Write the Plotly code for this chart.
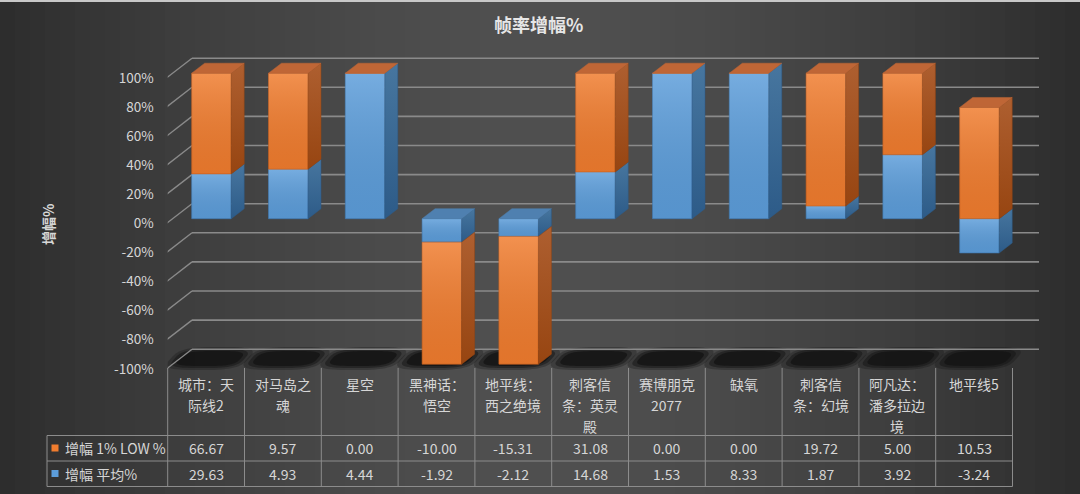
import plotly.graph_objects as go
import numpy as np

# ---------------- data ----------------
categories = ["城市：天际线2", "对马岛之魂", "星空", "黑神话：悟空", "地平线：西之绝境",
              "刺客信条：英灵殿", "赛博朋克2077", "缺氧", "刺客信条：幻境",
              "阿凡达：潘多拉边境", "地平线5"]
header_lines = [["城市：天", "际线2"], ["对马岛之", "魂"], ["星空"], ["黑神话：", "悟空"],
                ["地平线：", "西之绝境"], ["刺客信", "条：英灵", "殿"], ["赛博朋克", "2077"],
                ["缺氧"], ["刺客信", "条：幻境"], ["阿凡达：", "潘多拉边", "境"], ["地平线5"]]
low_1pct = [66.67, 9.57, 0.00, -10.00, -15.31, 31.08, 0.00, 0.00, 19.72, 5.00, 10.53]
avg_pct = [29.63, 4.93, 4.44, -1.92, -2.12, 14.68, 1.53, 8.33, 1.87, 3.92, -3.24]
series_low = "增幅 1% LOW %"
series_avg = "增幅 平均%"
y_ticks = [-100, -80, -60, -40, -20, 0, 20, 40, 60, 80, 100]
title_text = "帧率增幅%"
y_title = "增幅%"

# ---------------- geometry (pixels) ----------------
W, H = 1080, 494
X0, COL = 167.7, 76.8          # left edge of first category column, column width
Y0, PPU = 218.7, 1.455         # pixel of 0% on bar fronts, px per 1%
XR = X0 + 11.7 * COL
YT, YB = Y0 - 120 * PPU, Y0 + 110 * PPU


def px2x(p):
    return (p - X0) / COL - 0.5


def py2y(p):
    return (Y0 - p) / PPU


def fx(p):
    return p / W


def fy(p):
    return 1 - p / H


BAR_OFF = px2x(X0 + 24)
BAR_W = 39.5 / COL
DX = 13 / COL
DY = 10 / PPU

ORANGE = "#F07C2E"
BLUE = "#5C9DDA"
ORANGE_SIDE = ["#AE5F30", "#974511"]
BLUE_SIDE = ["#47769F", "#2D5B88"]
ORANGE_TOP = "#BF6636"
BLUE_TOP = "#4F80B0"
GRID = "#8a8a8a"
TXT = "#d6d6d6"
FONT = "Noto Sans CJK SC"

# 100% stacking
n = len(categories)
tot = [abs(a) + abs(b) for a, b in zip(low_1pct, avg_pct)]
avg_share = [a / t * 100 for a, t in zip(avg_pct, tot)]
low_share = [b / t * 100 for b, t in zip(low_1pct, tot)]

fig = go.Figure()

fig.add_trace(go.Bar(x=list(range(n)), y=avg_share, name=series_avg, width=BAR_W, offset=BAR_OFF,
                     marker=dict(color=BLUE, line=dict(color="#3F7CB8", width=0.6)),
                     customdata=avg_pct, hovertemplate="%{customdata}<extra></extra>"))
fig.add_trace(go.Bar(x=list(range(n)), y=low_share, name=series_low, width=BAR_W, offset=BAR_OFF,
                     marker=dict(color=ORANGE, line=dict(color="#C9601E", width=0.6)),
                     customdata=low_1pct, hovertemplate="%{customdata}<extra></extra>"))


def poly(xs, ys, grad, line_c, lw=0.5):
    fig.add_trace(go.Scatter(x=xs + [xs[0]], y=ys + [ys[0]], mode="lines", fill="toself",
                             fillgradient=dict(type="vertical",
                                               colorscale=[[0, grad[1]], [1, grad[0]]]),
                             line=dict(color=line_c, width=lw), hoverinfo="skip",
                             showlegend=False))


SHEEN = ["rgba(255,255,255,0.16)", "rgba(0,0,0,0.06)"]

for i in range(n):
    b = avg_share[i]
    o = low_share[i]
    segs = []
    # blue first (nearest zero), orange stacked after
    segs.append((min(0, b), max(0, b), "b"))
    if o >= 0:
        base = b if b > 0 else 0
        segs.append((base, base + o, "o"))
    else:
        base = b if b < 0 else 0
        segs.append((base + o, base, "o"))
    xl = i + BAR_OFF
    xr = xl + BAR_W
    for lo, hi, s in segs:
        if hi - lo < 1e-9:
            continue
        g = ORANGE_SIDE if s == "o" else BLUE_SIDE
        poly([xr, xr + DX, xr + DX, xr], [lo, lo + DY, hi + DY, hi], g, g[1])
        # soft vertical sheen on the front face
        poly([xl, xr, xr, xl], [lo, lo, hi, hi], SHEEN, "rgba(0,0,0,0)", 0)
    pos_top = max([hi for lo, hi, s in segs if lo >= 0] + [0])
    if pos_top > 0:
        yt = pos_top
        tc = ORANGE_TOP if o >= 0 else BLUE_TOP
    else:
        yt = 0
        tc = BLUE_TOP if b < 0 else ORANGE_TOP
    poly([xl, xr, xr + DX, xl + DX], [yt, yt, yt + DY, yt + DY], [tc, tc], tc)

shapes = []
# background gradient stripes
NS = 72
for k in range(NS):
    x0p = k * W / NS
    x1p = (k + 1) * W / NS
    t = ((x0p + x1p) / 2 - 540) / 540
    c = int(45 + 35 * (1 - abs(t) ** 1.6))
    shapes.append(dict(type="rect", xref="paper", yref="paper", x0=fx(x0p), x1=fx(x1p) + 0.001,
                       y0=0, y1=1, fillcolor=f"rgb({c},{c},{c})", line=dict(width=0), layer="below"))
shapes.append(dict(type="rect", xref="paper", yref="paper", x0=0, x1=1, y0=fy(2), y1=1,
                   fillcolor="#c8c8c8", line=dict(width=0), layer="below"))

# floor shadows
th = np.linspace(0, 2 * np.pi, 60)
for i in range(n):
    cxp = X0 + COL * i + 42
    cyp = 358.5
    for a, bb, op in [(39, 11.5, 0.3), (35, 9.5, 0.5), (31, 7.5, 0.8)]:
        ex = np.sign(np.cos(th)) * np.abs(np.cos(th)) ** 0.6 * a
        ey = np.sign(np.sin(th)) * np.abs(np.sin(th)) ** 0.6 * bb
        xs = cxp + ex - ey * 0.9
        ys = cyp + ey
        path = "M " + " L ".join(f"{px2x(x):.4f},{py2y(y):.3f}" for x, y in zip(xs, ys)) + " Z"
        shapes.append(dict(type="path", xref="x", yref="y", path=path,
                           fillcolor=f"rgba(20,20,20,{op})", line=dict(width=0), layer="between"))

# back wall gridlines and side-wall diagonals
gx0, gx1 = px2x(192), px2x(1039)
for v in y_ticks:
    shapes.append(dict(type="line", xref="x", yref="y", x0=gx0, x1=gx1, y0=v + 15 / PPU, y1=v + 15 / PPU,
                       line=dict(color=GRID, width=1.6), layer="between"))
    shapes.append(dict(type="line", xref="x", yref="y", x0=px2x(166.7), x1=gx0,
                       y0=v - 4.6 / PPU, y1=v + 15 / PPU,
                       line=dict(color=GRID, width=1.4), layer="between"))

# table lines
TL = "#8c8c8c"
T_TOP, R1, R2, R3 = 368, 435.5, 461, 486.5
LEG_X = 47
for k in range(n + 1):
    xp = X0 + COL * k
    shapes.append(dict(type="line", xref="paper", yref="paper", x0=fx(xp), x1=fx(xp),
                       y0=fy(T_TOP), y1=fy(R3), line=dict(color=TL, width=1)))
shapes.append(dict(type="line", xref="paper", yref="paper", x0=fx(LEG_X), x1=fx(LEG_X),
                   y0=fy(R1), y1=fy(R3), line=dict(color=TL, width=1)))
for yp in (R1, R2, R3):
    shapes.append(dict(type="line", xref="paper", yref="paper", x0=fx(LEG_X), x1=fx(X0 + COL * n),
                       y0=fy(yp), y1=fy(yp), line=dict(color=TL, width=1)))
# legend keys
for yc, col in ((448, ORANGE), (473.5, BLUE)):
    shapes.append(dict(type="rect", xref="paper", yref="paper", x0=fx(51.5), x1=fx(58.5),
                       y0=fy(yc + 3.5), y1=fy(yc - 3.5), fillcolor=col, line=dict(width=0)))

ann = []
ann.append(dict(text=f"<b>{title_text}</b>", x=fx(538), y=fy(24), xref="paper", yref="paper",
                showarrow=False, font=dict(size=18, color="#e6e6e6", family=FONT),
                xanchor="center", yanchor="middle"))
ann.append(dict(text=f"<b>{y_title}</b>", x=fx(48), y=fy(224), xref="paper", yref="paper",
                showarrow=False, textangle=-90, font=dict(size=14, color=TXT, family=FONT),
                xanchor="center", yanchor="middle"))
for i in range(n):
    cx = X0 + COL * (i + 0.5)
    for j, line in enumerate(header_lines[i]):
        ann.append(dict(text=line, x=fx(cx), y=fy(384 + 21 * j), xref="paper", yref="paper",
                        showarrow=False, font=dict(size=14, color=TXT, family=FONT),
                        xanchor="center", yanchor="middle"))
    ann.append(dict(text=f"{low_1pct[i]:.2f}", x=fx(cx), y=fy(448), xref="paper", yref="paper",
                    showarrow=False, font=dict(size=14, color=TXT, family=FONT),
                    xanchor="center", yanchor="middle"))
    ann.append(dict(text=f"{avg_pct[i]:.2f}", x=fx(cx), y=fy(473.5), xref="paper", yref="paper",
                    showarrow=False, font=dict(size=14, color=TXT, family=FONT),
                    xanchor="center", yanchor="middle"))
for yc, name in ((448, series_low), (473.5, series_avg)):
    ann.append(dict(text=name, x=fx(63), y=fy(yc), xref="paper", yref="paper", showarrow=False,
                    font=dict(size=14, color=TXT, family=FONT), xanchor="left", yanchor="middle"))

fig.update_layout(
    width=W, height=H, autosize=False,
    margin=dict(l=0, r=0, t=0, b=0, pad=0),
    paper_bgcolor="#3c3c3c", plot_bgcolor="rgba(0,0,0,0)",
    barmode="relative", showlegend=False,
    shapes=shapes, annotations=ann,
    xaxis=dict(domain=[fx(X0), fx(XR)], range=[-0.5, 11.2], visible=False, fixedrange=True),
    yaxis=dict(domain=[fy(YB), fy(YT)], range=[-110, 120], showgrid=False, zeroline=False,
               tickvals=[v - 4.6 / PPU for v in y_ticks], ticktext=[f"{v}%" for v in y_ticks],
               ticks="", ticklabelstandoff=13,
               tickfont=dict(size=13.5, color=TXT, family=FONT), fixedrange=True),
)

fig.write_html("out.html")
